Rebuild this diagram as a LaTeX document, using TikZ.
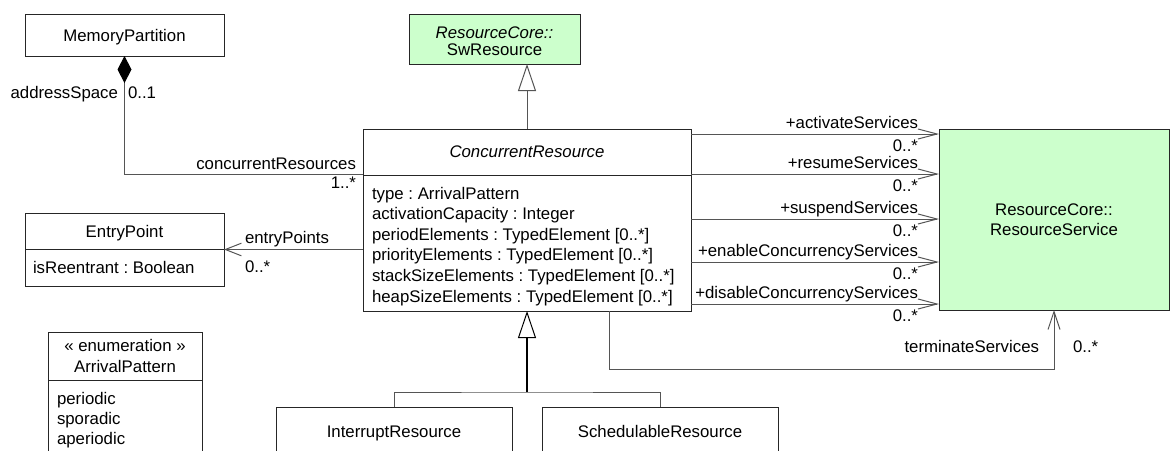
\documentclass[tikz,border=0pt]{standalone}
\usepackage{fontspec}
\setmainfont{Liberation Sans}
\usetikzlibrary{arrows.meta}
\definecolor{umlgreen}{HTML}{CCFFCC}
\definecolor{linegray}{HTML}{555555}
\frenchspacing
\begin{document}
\begin{tikzpicture}[x=1pt,y=-1pt,
  every node/.style={font=\fontsize{16.8pt}{20.6pt}\selectfont, inner sep=0pt, outer sep=0pt},
  box/.style={draw=black!85, line width=1pt, fill=white},
  gbox/.style={box, fill=umlgreen},
  sepline/.style={draw=black!85, line width=1pt},
  conn/.style={draw=linegray, line width=1pt},
  txt/.style={anchor=base},
  txtl/.style={anchor=base west},
  txtr/.style={anchor=base east},
  openarr/.style={-{Straight Barb[length=19pt,width=10pt,line width=1pt]}},
  genarr/.style={-{Triangle[open,length=27pt,width=18pt,fill=white,line width=1pt]}}
]
\useasboundingbox[fill=white] (0,0) rectangle (1173,450);

% MemoryPartition
\node[box, minimum width=199pt, minimum height=42pt] (mp) at (124.5,35) {};
\node[txt] (mpn) at (124.5,41) {MemoryPartition};

% SwResource
\node[gbox, minimum width=171pt, minimum height=50pt] (sw) at (494.5,39) {};
\node[txt] (swn1) at (494.5,38) {\textit{ResourceCore::}};
\node[txt] (swn2) at (494.5,55) {SwResource};

% ConcurrentResource
\node[box, minimum width=328pt, minimum height=182pt] (cr) at (527,220) {};
\draw[sepline] ([yshift=-46pt]cr.north west) -- ([yshift=-46pt]cr.north east);
\node[txt] (crn) at (527,157) {\textit{ConcurrentResource}};
\node[txtl] (cra1) at (372,199) {type : ArrivalPattern};
\node[txtl] (cra2) at (372,219.6) {activationCapacity : Integer};
\node[txtl] (cra3) at (372,240.2) {periodElements : TypedElement [0..*]};
\node[txtl] (cra4) at (372,260.8) {priorityElements : TypedElement [0..*]};
\node[txtl] (cra5) at (372,281.4) {stackSizeElements : TypedElement [0..*]};
\node[txtl] (cra6) at (372,302) {heapSizeElements : TypedElement [0..*]};

% ResourceService
\node[gbox, minimum width=230pt, minimum height=181pt] (rs) at (1054,219.5) {};
\node[txt] (rsn1) at (1054,215) {ResourceCore::};
\node[txt] (rsn2) at (1054,235) {ResourceService};

% EntryPoint
\node[box, minimum width=199pt, minimum height=73pt] (ep) at (124.5,249.5) {};
\draw[sepline] (ep.west) -- (ep.east);
\node[txt] (epn) at (124.5,237) {EntryPoint};
\node[txtl] (epa) at (33,273) {isReentrant : Boolean};

% Enumeration
\node[box, minimum width=154pt, minimum height=138pt] (en) at (125,401) {};
\draw[sepline] ([yshift=-48pt]en.north west) -- ([yshift=-48pt]en.north east);
\node[txt] (enn1) at (125,351) {« enumeration »};
\node[txt] (enn2) at (125,372) {ArrivalPattern};
\node[txtl] (enl1) at (57,404) {periodic};
\node[txtl] (enl2) at (57,424) {sporadic};
\node[txtl] (enl3) at (57,444) {aperiodic};

% Subclasses
\node[box, minimum width=236pt, minimum height=63pt] (ir) at (394,438.5) {};
\node[txt] (irn) at (394,437) {InterruptResource};
\node[box, minimum width=236pt, minimum height=63pt] (sr) at (660,438.5) {};
\node[txt] (srn) at (660,437) {SchedulableResource};

% MemoryPartition composition
\draw[conn, {Diamond[length=27pt,width=14pt,color=black]}-] (mp.south) |- ([yshift=-45pt]cr.north west);
\node[txtr] (lads) at (118,98) {addressSpace};
\node[txtl] (lads2) at (128,98) {0..1};
\node[txtr] (lcr) at (356,169) {concurrentResources};
\node[txtr] (lcr2) at (356,188) {1..*};

% Generalization to SwResource
\draw[conn, genarr] (cr.north) -- (cr.north |- sw.south);

% Services
\draw[conn, openarr] ([yshift=-5pt]cr.north east) -- ([yshift=-5pt]rs.north west);
\draw[conn, openarr] ([yshift=-45pt]cr.north east) -- ([yshift=-45pt]rs.north west);
\draw[conn, openarr] ([yshift=-90pt]cr.north east) -- ([yshift=-90pt]rs.north west);
\draw[conn, openarr] ([yshift=-133pt]cr.north east) -- ([yshift=-133pt]rs.north west);
\draw[conn, openarr] ([yshift=-175pt]cr.north east) -- ([yshift=-175pt]rs.north west);
\node[txtr] (s1) at (918,128) {+activateServices};
\node[txtr] (m1) at (918,151) {0..*};
\node[txtr] (s2) at (918,168) {+resumeServices};
\node[txtr] (m2) at (918,191) {0..*};
\node[txtr] (s3) at (918,213) {+suspendServices};
\node[txtr] (m3) at (918,236) {0..*};
\node[txtr] (s4) at (918,256) {+enableConcurrencyServices};
\node[txtr] (m4) at (918,279) {0..*};
\node[txtr] (s5) at (918,298) {+disableConcurrencyServices};
\node[txtr] (m5) at (918,321) {0..*};

% terminateServices
\draw[conn, -{Straight Barb[length=18pt,width=12pt,line width=1pt]}] ([xshift=82pt]cr.south) -- ++(0,58) -| (rs.south);
\node[txtr] (tl) at (1039,352) {terminateServices};
\node[txtl] (tm) at (1073,352) {0..*};

% entryPoints
\draw[conn, -{Straight Barb[length=16pt,width=12.6pt,line width=1pt]}] (cr.west |- ep.east) -- (ep.east);
\node[txtl] (el) at (245,243) {entryPoints};
\node[txtl] (em) at (245,272) {0..*};

% Subclass generalization
\coordinate (gj) at (527,392);
\draw[draw=black, line width=1.4pt, genarr] (gj) -- (cr.south);
\draw[conn] (ir.north) |- (gj) -| (sr.north);
\end{tikzpicture}
\end{document}
